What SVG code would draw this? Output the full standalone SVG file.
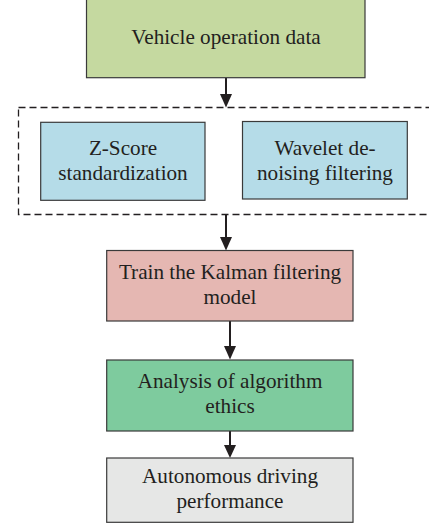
<svg xmlns="http://www.w3.org/2000/svg" width="429" height="525" viewBox="0 0 429 525">
<defs>
<style>
.box{stroke:#3a3a3a;stroke-width:1.2}
.t{font-family:"Liberation Serif","Times New Roman",serif;font-size:21.2px;fill:#231f20;text-anchor:middle}
.c{stroke:#231f20;stroke-width:2;fill:none}
.ah{fill:#231f20}
</style>
</defs>
<rect width="429" height="525" fill="#ffffff"/>
<g id="connectors">
<line class="c" x1="226" y1="78" x2="226" y2="94"/>
<path class="ah" d="M220,94 L232,94 L226,107.5 Z"/>
<line class="c" x1="226" y1="214" x2="226" y2="237"/>
<path class="ah" d="M220,237 L232,237 L226,250.5 Z"/>
<line class="c" x1="230" y1="321" x2="230" y2="346"/>
<path class="ah" d="M224,346 L236,346 L230,359.5 Z"/>
<line class="c" x1="230" y1="431" x2="230" y2="445"/>
<path class="ah" d="M224,445 L236,445 L230,458 Z"/>
</g>
<g id="group-preprocess">
<rect x="18.5" y="107.5" width="420" height="107" fill="none" stroke="#231f20" stroke-width="1.3" stroke-dasharray="7,4"/>
</g>
<g id="node-vehicle">
<rect class="box" x="86.5" y="-1" width="278.5" height="78.7" fill="#c5d9a0"/>
<text class="t" x="226" y="43.5">Vehicle operation data</text>
</g>
<g id="node-zscore">
<rect class="box" x="40.7" y="122.3" width="164.3" height="78" fill="#b5dce8"/>
<text class="t" x="123" y="154.5">Z-Score</text>
<text class="t" x="123" y="180">standardization</text>
</g>
<g id="node-wavelet">
<rect class="box" x="242.5" y="121.5" width="164.8" height="77.5" fill="#b5dce8"/>
<text class="t" x="325" y="154.5">Wavelet de-</text>
<text class="t" x="325" y="180">noising filtering</text>
</g>
<g id="node-kalman">
<rect class="box" x="106.7" y="250.5" width="246.3" height="70.5" fill="#e5b7b2"/>
<text class="t" x="230" y="279">Train the Kalman filtering</text>
<text class="t" x="230" y="304">model</text>
</g>
<g id="node-analysis">
<rect class="box" x="106.7" y="360" width="246.3" height="71" fill="#7ecb9e"/>
<text class="t" x="230" y="388">Analysis of algorithm</text>
<text class="t" x="230" y="413">ethics</text>
</g>
<g id="node-autonomous">
<rect class="box" x="106.7" y="458" width="246.3" height="64.3" fill="#e6e7e6"/>
<text class="t" x="230" y="483">Autonomous driving</text>
<text class="t" x="230" y="508">performance</text>
</g>
</svg>
